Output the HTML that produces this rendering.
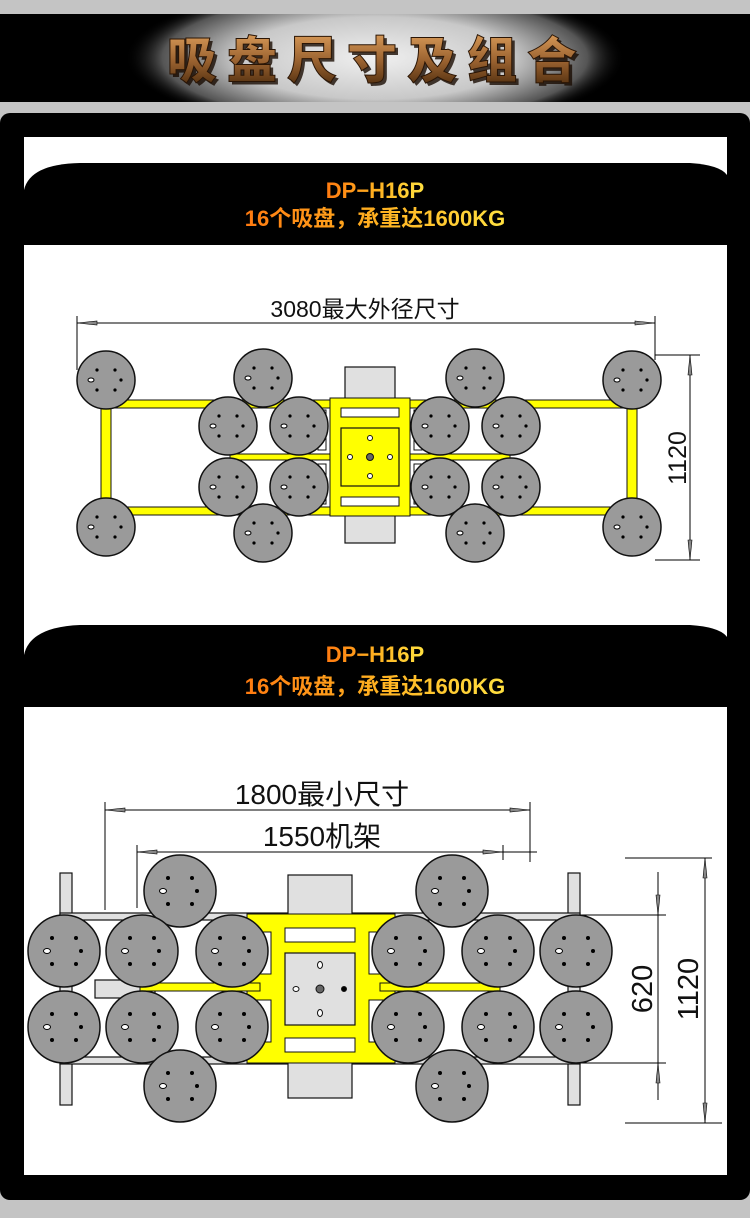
<!DOCTYPE html>
<html><head><meta charset="utf-8"><style>
html,body{margin:0;padding:0;width:750px;height:1218px;overflow:hidden;background:#c4c4c4;}
svg{display:block}
</style></head><body>
<svg width="750" height="1218" viewBox="0 0 750 1218" xmlns="http://www.w3.org/2000/svg">
<defs>
<radialGradient id="glow" cx="50%" cy="50%" r="50%">
<stop offset="0" stop-color="#f0f0f0"/><stop offset="0.55" stop-color="#c8c8c8"/><stop offset="0.85" stop-color="#555"/><stop offset="1" stop-color="#000" stop-opacity="0"/>
</radialGradient>
<linearGradient id="tg" x1="0" y1="0" x2="0" y2="1">
<stop offset="0" stop-color="#d89a58"/><stop offset="0.5" stop-color="#9a6230"/><stop offset="1" stop-color="#4a2a0c"/>
</linearGradient>
<linearGradient id="og" x1="0" y1="0" x2="1" y2="0">
<stop offset="0" stop-color="#ff7a10"/><stop offset="0.5" stop-color="#ffb020"/><stop offset="1" stop-color="#ffe040"/>
</linearGradient>
<g id="cs">
<circle r="29" fill="#9a9a9a" stroke="#111" stroke-width="1.5"/>
<circle cx="-9" cy="-10" r="1.6" fill="#000"/><circle cx="9" cy="-10" r="1.6" fill="#000"/>
<circle cx="-9" cy="10" r="1.6" fill="#000"/><circle cx="9" cy="10" r="1.6" fill="#000"/>
<ellipse cx="-15" cy="0" rx="3" ry="2" fill="#fff" stroke="#000"/><circle cx="15" cy="0" r="1.6" fill="#000"/>
</g>
<g id="cl">
<circle r="36" fill="#9a9a9a" stroke="#111" stroke-width="1.5"/>
<circle cx="-12" cy="-13" r="2" fill="#000"/><circle cx="12" cy="-13" r="2" fill="#000"/>
<circle cx="-12" cy="13" r="2" fill="#000"/><circle cx="12" cy="13" r="2" fill="#000"/>
<ellipse cx="-17" cy="0" rx="3.5" ry="2.5" fill="#fff" stroke="#000"/><circle cx="17" cy="0" r="2" fill="#000"/>
</g>
</defs>
<!-- top banner -->
<rect x="0" y="14" width="750" height="88" fill="#000"/>
<ellipse cx="375" cy="58" rx="250" ry="75" fill="url(#glow)"/>
<rect x="0" y="0" width="750" height="14" fill="#c4c4c4"/>
<rect x="0" y="102" width="750" height="11" fill="#c4c4c4"/>
<text x="380" y="81" text-anchor="middle" font-family="Liberation Sans,Noto Sans CJK SC,sans-serif" font-weight="900" font-size="50" letter-spacing="10" fill="#1a0c02" opacity="0.8">吸盘尺寸及组合</text>
<text x="377" y="78" text-anchor="middle" font-family="Liberation Sans,Noto Sans CJK SC,sans-serif" font-weight="900" font-size="50" letter-spacing="10" fill="url(#tg)" stroke="#2a1505" stroke-width="1">吸盘尺寸及组合</text>
<!-- panel -->
<rect x="0" y="113" width="750" height="86" rx="10" fill="#000"/>
<rect x="0" y="160" width="750" height="1040" rx="10" fill="#000"/>
<rect x="24" y="137" width="703" height="1038" fill="#fff"/>
<!-- header 1 -->
<path d="M24 245 L24 190 Q30 164 80 163 L690 163 Q720 165 727 175 L727 245 Z" fill="#000"/>
<text x="375" y="198" text-anchor="middle" font-family="Liberation Sans,sans-serif" font-weight="bold" font-size="22" fill="url(#og)">DP−H16P</text>
<text x="375" y="226" text-anchor="middle" font-family="Liberation Sans,Noto Sans CJK SC,sans-serif" font-weight="bold" font-size="22" fill="url(#og)">16个吸盘，承重达1600KG</text>
<!-- header 2 -->
<path d="M24 707 L24 655 Q30 627 80 625 L690 625 Q720 627 727 637 L727 707 Z" fill="#000"/>
<text x="375" y="662" text-anchor="middle" font-family="Liberation Sans,sans-serif" font-weight="bold" font-size="22" fill="url(#og)">DP−H16P</text>
<text x="375" y="694" text-anchor="middle" font-family="Liberation Sans,Noto Sans CJK SC,sans-serif" font-weight="bold" font-size="22" fill="url(#og)">16个吸盘，承重达1600KG</text>

<!-- ===== Diagram 1 ===== -->
<g stroke="#000" stroke-width="1" fill="none">
<line x1="77" y1="323" x2="655" y2="323"/>
<line x1="77" y1="316" x2="77" y2="370"/><line x1="655" y1="316" x2="655" y2="360"/>
<line x1="655" y1="355" x2="700" y2="355"/><line x1="655" y1="560" x2="700" y2="560"/>
<line x1="690" y1="355" x2="690" y2="560"/>
</g>
<path d="M77 323 L97 321 L97 325Z M655 323 L635 321 L635 325Z M690 355 L688 375 L692 375Z M690 560 L688 540 L692 540Z" fill="#888" stroke="#000" stroke-width="0.6"/>
<text x="365" y="317" text-anchor="middle" font-family="Liberation Sans,Noto Sans CJK SC,sans-serif" font-size="23" fill="#111">3080最大外径尺寸</text>
<text transform="translate(686,458) rotate(-90)" text-anchor="middle" font-family="Liberation Sans,sans-serif" font-size="25" fill="#111">1120</text>
<rect x="345" y="367" width="50" height="176" fill="#e0e0e0" stroke="#111" stroke-width="1.2"/>
<g fill="#ffff00" stroke="#111" stroke-width="1">
<rect x="106" y="400" width="526" height="8"/>
<rect x="106" y="507" width="526" height="8"/>
<rect x="101" y="400" width="10" height="115"/>
<rect x="627" y="400" width="10" height="115"/>
<rect x="230" y="454" width="280" height="6"/>
<rect x="330" y="398" width="80" height="118"/>
</g>
<g fill="#fff" stroke="#111" stroke-width="1">
<rect x="341" y="408" width="58" height="9"/><rect x="341" y="497" width="58" height="9"/>
<rect x="318" y="410" width="8" height="40"/><rect x="318" y="464" width="8" height="40"/>
<rect x="414" y="410" width="8" height="40"/><rect x="414" y="464" width="8" height="40"/>
</g>
<rect x="341" y="428" width="58" height="58" fill="#ffff00" stroke="#111" stroke-width="1.2"/>
<g fill="#fff" stroke="#111"><circle cx="370" cy="438" r="2.5"/><circle cx="370" cy="476" r="2.5"/><circle cx="350" cy="457" r="2.5"/><circle cx="390" cy="457" r="2.5"/><circle cx="370" cy="457" r="3.5" fill="#666"/></g>
<use href="#cs" x="106" y="380"/><use href="#cs" x="263" y="378"/><use href="#cs" x="475" y="378"/><use href="#cs" x="632" y="380"/>
<use href="#cs" x="228" y="426"/><use href="#cs" x="299" y="426"/><use href="#cs" x="440" y="426"/><use href="#cs" x="511" y="426"/>
<use href="#cs" x="228" y="487"/><use href="#cs" x="299" y="487"/><use href="#cs" x="440" y="487"/><use href="#cs" x="511" y="487"/>
<use href="#cs" x="106" y="527"/><use href="#cs" x="263" y="533"/><use href="#cs" x="475" y="533"/><use href="#cs" x="632" y="527"/>

<!-- ===== Diagram 2 ===== -->
<g stroke="#000" stroke-width="1" fill="none">
<line x1="105" y1="810" x2="530" y2="810"/><line x1="105" y1="802" x2="105" y2="910"/><line x1="530" y1="802" x2="530" y2="862"/>
<line x1="137" y1="852" x2="537" y2="852"/><line x1="137" y1="845" x2="137" y2="908"/><line x1="503" y1="845" x2="503" y2="860"/>
<line x1="625" y1="858" x2="712" y2="858"/><line x1="625" y1="1123" x2="722" y2="1123"/>
<line x1="560" y1="915" x2="666" y2="915"/><line x1="560" y1="1063" x2="666" y2="1063"/>
<line x1="705" y1="858" x2="705" y2="1123"/>
<line x1="658" y1="872" x2="658" y2="1100"/>
</g>
<path d="M105 810 L125 808 L125 812Z M530 810 L510 808 L510 812Z M137 852 L157 850 L157 854Z M503 852 L483 850 L483 854Z M705 858 L703 878 L707 878Z M705 1123 L703 1103 L707 1103Z M658 915 L656 895 L660 895Z M658 1063 L656 1083 L660 1083Z" fill="#888" stroke="#000" stroke-width="0.6"/>
<text x="322" y="804" text-anchor="middle" font-family="Liberation Sans,Noto Sans CJK SC,sans-serif" font-size="28" fill="#111">1800最小尺寸</text>
<text x="322" y="846" text-anchor="middle" font-family="Liberation Sans,Noto Sans CJK SC,sans-serif" font-size="28" fill="#111">1550机架</text>
<text transform="translate(652,989) rotate(-90)" text-anchor="middle" font-family="Liberation Sans,sans-serif" font-size="29" fill="#111">620</text>
<text transform="translate(698,989) rotate(-90)" text-anchor="middle" font-family="Liberation Sans,sans-serif" font-size="29" fill="#111">1120</text>
<g fill="#e0e0e0" stroke="#111" stroke-width="1.2">
<rect x="60" y="873" width="12" height="232"/><rect x="568" y="873" width="12" height="232"/>
<rect x="60" y="913" width="520" height="7"/><rect x="60" y="1057" width="520" height="7"/>
<rect x="95" y="980" width="60" height="18"/>
<rect x="288" y="875" width="64" height="223"/>
</g>
<g fill="#ffff00" stroke="#111" stroke-width="1">
<rect x="247" y="914" width="148" height="149"/>
<rect x="140" y="983" width="120" height="8"/><rect x="380" y="983" width="120" height="8"/>
</g>
<g fill="#fff" stroke="#111" stroke-width="1">
<rect x="285" y="928" width="70" height="14"/><rect x="285" y="1038" width="70" height="14"/>
<rect x="255" y="932" width="16" height="42"/><rect x="255" y="1000" width="16" height="42"/>
<rect x="369" y="932" width="16" height="42"/><rect x="369" y="1000" width="16" height="42"/>
</g>
<rect x="285" y="953" width="70" height="72" fill="#e0e0e0" stroke="#111" stroke-width="1.2"/>
<g fill="#fff" stroke="#111"><ellipse cx="320" cy="965" rx="2.5" ry="3.5"/><ellipse cx="320" cy="1013" rx="2.5" ry="3.5"/><ellipse cx="296" cy="989" rx="3" ry="2.5"/><circle cx="344" cy="989" r="2.5" fill="#000"/><circle cx="320" cy="989" r="4" fill="#666"/></g>
<use href="#cl" x="180" y="891"/><use href="#cl" x="452" y="891"/>
<use href="#cl" x="64" y="951"/><use href="#cl" x="142" y="951"/><use href="#cl" x="232" y="951"/><use href="#cl" x="408" y="951"/><use href="#cl" x="498" y="951"/><use href="#cl" x="576" y="951"/>
<use href="#cl" x="64" y="1027"/><use href="#cl" x="142" y="1027"/><use href="#cl" x="232" y="1027"/><use href="#cl" x="408" y="1027"/><use href="#cl" x="498" y="1027"/><use href="#cl" x="576" y="1027"/>
<use href="#cl" x="180" y="1086"/><use href="#cl" x="452" y="1086"/>
</svg>
</body></html>
